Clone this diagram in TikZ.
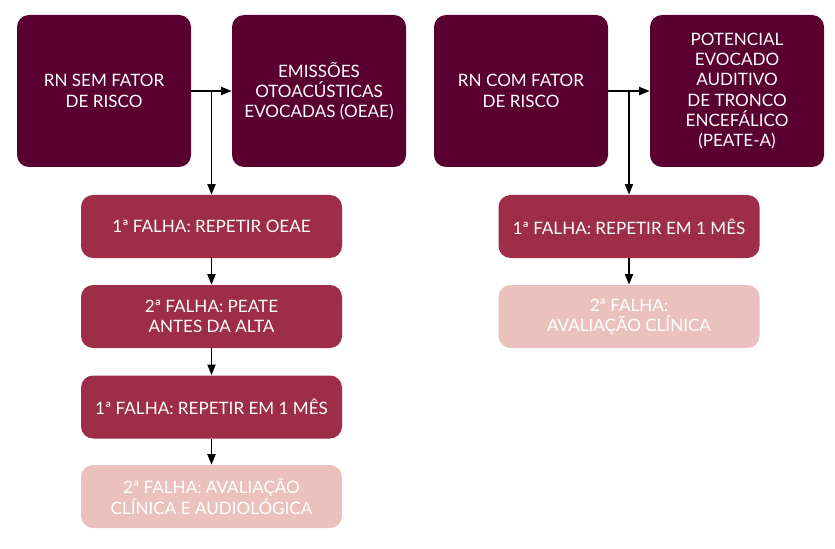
\documentclass[tikz,border=0pt]{standalone}
\usepackage{fontspec}
\setmainfont{Lato}
\usepackage{tikz}
\usetikzlibrary{arrows.meta}

\definecolor{vinho}{HTML}{5A0030}
\definecolor{bordo}{HTML}{9E2E47}
\definecolor{rosa}{HTML}{EBC1BE}

\tikzset{
	caixa/.style={shape=rectangle, rounded corners=9pt, text=white, align=center, font=\fontsize{12.8}{15.2}\selectfont, inner sep=0pt},
	topo/.style={caixa, fill=vinho, minimum width=130.5pt, minimum height=114pt},
	passo/.style={caixa, fill=bordo, minimum width=195.75pt, minimum height=47.25pt},
	fim/.style={caixa, fill=rosa, minimum width=195.75pt, minimum height=47.25pt},
	seta/.style={-{Triangle[length=8pt, width=6pt]}, line width=1.4pt}
}

\begin{document}
\begin{tikzpicture}[x=0.75pt, y=-0.75pt]
			\useasboundingbox[fill=white] (0, 0) rectangle (835, 549);
			\node[topo](SemRisco) at (104, 91){RN SEM FATOR\\DE RISCO};
			\node[topo](OEAE) at (319, 91){EMISSÕES\\OTOACÚSTICAS\\EVOCADAS (OEAE)};
			\node[topo](ComRisco) at (521, 91){RN COM FATOR\\DE RISCO};
			\node[topo](PEATE) at (737, 91){POTENCIAL\\EVOCADO\\AUDITIVO\\DE TRONCO\\ENCEFÁLICO\\(PEATE-A)};
			\node[passo](S1) at (211.5, 226.5){1ª FALHA: REPETIR OEAE};
			\node[passo](S2) at (211.5, 316.5){2ª FALHA: PEATE\\ANTES DA ALTA};
			\node[passo](S3) at (211.5, 407){1ª FALHA: REPETIR EM 1 MÊS};
			\node[fim](S4) at (211.5, 496.5){2ª FALHA: AVALIAÇÃO\\CLÍNICA E AUDIOLÓGICA};
			\node[passo](C1) at (629, 226.5){1ª FALHA: REPETIR EM 1 MÊS};
			\node[fim](C2) at (629, 316.5){2ª FALHA:\\AVALIAÇÃO CLÍNICA};
			\draw[seta] (SemRisco.east) -- (OEAE.west);
			\draw[seta] (SemRisco.east -| S1.north) -- (S1.north);
			\draw[seta] (S1) -- (S2);
			\draw[seta] (S2) -- (S3);
			\draw[seta] (S3) -- (S4);
			\draw[seta] (ComRisco.east) -- (PEATE.west);
			\draw[seta] (ComRisco.east -| C1.north) -- (C1.north);
			\draw[seta] (C1) -- (C2);
		\end{tikzpicture}
\end{document}
